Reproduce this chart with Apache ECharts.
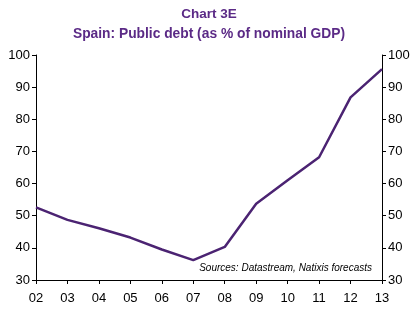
<!DOCTYPE html>
<html><head><meta charset="utf-8">
<script src="https://cdn.jsdelivr.net/npm/echarts@6/dist/echarts.min.js"></script>
<style>html,body{margin:0;padding:0;background:#fff}#c{width:418px;height:323px}</style>
</head><body><div id="c"></div>
<script>
var categories = ['02','03','04','05','06','07','08','09','10','11','12','13'];
var debt = [52.6, 48.7, 46.1, 43.2, 39.5, 36.2, 40.3, 53.7, 61.0, 68.2, 86.8, 95.6];
var yTicks = [30, 40, 50, 60, 70, 80, 90, 100];

var chart = echarts.init(document.getElementById('c'));
var yAxisBase = function(pos){
  return {
    type:'value', position:pos, min:yTicks[0], max:yTicks[yTicks.length-1], interval:10,
    axisLine:{show:true, lineStyle:{color:'#000', width:1}},
    axisTick:{show:true, length:4, lineStyle:{color:'#000'}},
    axisLabel:{color:'#000', fontSize:13, fontFamily:'Liberation Sans, Arial', margin:6},
    splitLine:{show:false}
  };
};
chart.setOption({
  animation:false,
  title:[
    {text:'Chart 3E', left:'center', top:2, textStyle:{color:'#5b2a86', fontSize:13.5, fontWeight:'bold', fontFamily:'Liberation Sans, Arial'}},
    {text:'Spain: Public debt (as % of nominal GDP)', left:'center', top:22, textStyle:{color:'#5b2a86', fontSize:13.8, fontWeight:'bold', fontFamily:'Liberation Sans, Arial'}}
  ],
  grid:{left:36, right:36, top:55, bottom:43},
  xAxis:{type:'category', data:categories, boundaryGap:false,
    axisLine:{lineStyle:{color:'#000'}},
    axisTick:{show:true, length:4, alignWithLabel:true, lineStyle:{color:'#000'}},
    axisLabel:{color:'#000', fontSize:13, fontFamily:'Liberation Sans, Arial', margin:12}
  },
  yAxis:[yAxisBase('left'), yAxisBase('right')],
  graphic:[{type:'text', right:46, top:263, style:{text:'Sources: Datastream, Natixis forecasts', fill:'#000', font:'italic 10px Liberation Sans, Arial'}}],
  series:[{type:'line', data:debt, yAxisIndex:0, symbol:'none', lineStyle:{color:'#4b2372', width:2.5}}]
});
</script></body></html>
